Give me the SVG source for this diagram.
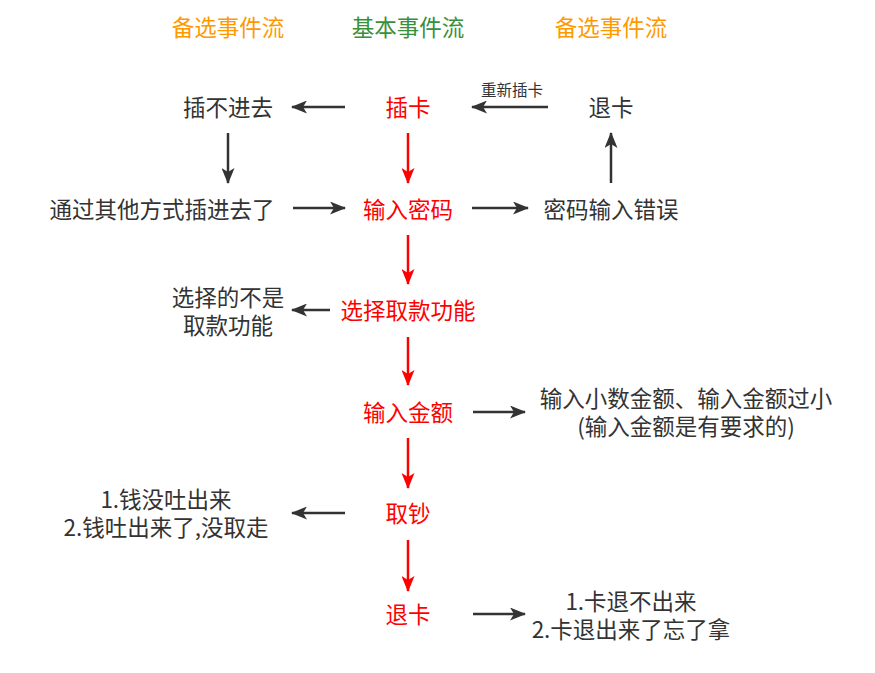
<svg xmlns="http://www.w3.org/2000/svg" width="875" height="673" viewBox="0 0 875 673">
<style>
text{font-family:"Noto Sans CJK SC","Liberation Sans",sans-serif;font-size:22.5px;text-anchor:middle;fill:#333333}
.r{fill:#FF0000}
.o{fill:#FF9900}
.g{fill:#3A8F3A}
.s{font-size:15.5px}
.k{stroke:#333333;stroke-width:2.5;fill:none}
.rl{stroke:#FF0000;stroke-width:2.5;fill:none}
</style>
<defs>
<marker id="ak" viewBox="0 0 16 13" refX="15" refY="6.5" markerWidth="16" markerHeight="13" markerUnits="userSpaceOnUse" orient="auto"><path d="M0,0 L16,6.5 L0,13 L4,6.5 Z" fill="#333333"/></marker>
<marker id="ar" viewBox="0 0 16 13" refX="15" refY="6.5" markerWidth="16" markerHeight="13" markerUnits="userSpaceOnUse" orient="auto"><path d="M0,0 L16,6.5 L0,13 L4,6.5 Z" fill="#FF0000"/></marker>
</defs>
<rect width="875" height="673" fill="#ffffff"/>
<g id="titles">
<text class="o" x="228" y="36">备选事件流</text>
<text class="g" x="408" y="36">基本事件流</text>
<text class="o" x="611" y="36">备选事件流</text>
</g>
<g id="connectors">
<line class="k" x1="345" y1="107" x2="292" y2="107" marker-end="url(#ak)"/>
<line class="k" x1="548" y1="107" x2="472" y2="107" marker-end="url(#ak)"/>
<text class="s" x="512" y="96">重新插卡</text>
<line class="k" x1="228" y1="133" x2="228" y2="183" marker-end="url(#ak)"/>
<line class="rl" x1="408" y1="133" x2="408" y2="183" marker-end="url(#ar)"/>
<line class="k" x1="611" y1="183" x2="611" y2="133" marker-end="url(#ak)"/>
<line class="k" x1="293" y1="208" x2="345" y2="208" marker-end="url(#ak)"/>
<line class="k" x1="472" y1="208" x2="528" y2="208" marker-end="url(#ak)"/>
<line class="rl" x1="408" y1="235" x2="408" y2="284" marker-end="url(#ar)"/>
<line class="k" x1="330" y1="310" x2="292" y2="310" marker-end="url(#ak)"/>
<line class="rl" x1="408" y1="337" x2="408" y2="385" marker-end="url(#ar)"/>
<line class="k" x1="473" y1="412" x2="525" y2="412" marker-end="url(#ak)"/>
<line class="rl" x1="408" y1="438" x2="408" y2="488" marker-end="url(#ar)"/>
<line class="k" x1="345" y1="513" x2="292" y2="513" marker-end="url(#ak)"/>
<line class="rl" x1="408" y1="540" x2="408" y2="591" marker-end="url(#ar)"/>
<line class="k" x1="473" y1="614" x2="525" y2="614" marker-end="url(#ak)"/>
</g>
<g id="n-chaka"><text class="r" x="408" y="116">插卡</text></g>
<g id="n-chabujinqu"><text x="228" y="116">插不进去</text></g>
<g id="n-tuika-top"><text x="611" y="116">退卡</text></g>
<g id="n-tongguo"><text x="162" y="218">通过其他方式插进去了</text></g>
<g id="n-shurumima"><text class="r" x="408" y="218">输入密码</text></g>
<g id="n-mimacuowu"><text x="611" y="218">密码输入错误</text></g>
<g id="n-xuanzebushi"><text x="228" y="306">选择的不是</text><text x="228" y="334">取款功能</text></g>
<g id="n-xuanze"><text class="r" x="408" y="319">选择取款功能</text></g>
<g id="n-shurujine"><text class="r" x="408" y="421">输入金额</text></g>
<g id="n-jinecuowu"><text x="686" y="407">输入小数金额、输入金额过小</text><text x="686" y="435">(输入金额是有要求的)</text></g>
<g id="n-quchao"><text class="r" x="408" y="522">取钞</text></g>
<g id="n-qianwenti"><text x="166" y="508">1.钱没吐出来</text><text x="166" y="536">2.钱吐出来了,没取走</text></g>
<g id="n-tuika"><text class="r" x="408" y="623">退卡</text></g>
<g id="n-kawenti"><text x="631" y="610">1.卡退不出来</text><text x="631" y="638">2.卡退出来了忘了拿</text></g>
</svg>
